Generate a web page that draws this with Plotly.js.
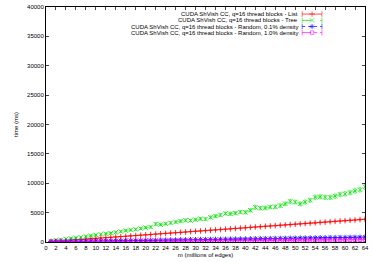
<!DOCTYPE html>
<html><head><meta charset="utf-8">
<script src="https://cdn.plot.ly/plotly-3.0.1.min.js"></script>
<style>html,body{margin:0;padding:0;background:#fff}#chart{width:374px;height:262px}</style>
</head><body><div id="chart"></div>
<script>
const m = [];
for (let i = 1; i <= 64; i++) m.push(i);

const seriesNames = [
  "CUDA ShVish CC, q=16 thread blocks - List",
  "CUDA ShVish CC, q=16 thread blocks - Tree",
  "CUDA ShVish CC, q=16 thread blocks - Random, 0.1% density",
  "CUDA ShVish CC, q=16 thread blocks - Random, 1.0% density"
];

const listTime = [70,140,200,260,320,380,440,500,560,620, 680,740,800,860,920,980,1040,1100,1160,1220,
  1280,1340,1400,1460,1520,1580,1640,1700,1760,1820, 1880,1940,2000,2060,2120,2180,2240,2300,2360,2430,
  2490,2550,2610,2670,2730,2790,2850,2910,2970,3030, 3090,3150,3210,3270,3330,3390,3450,3510,3570,3630,
  3690,3750,3810,3870];
const listErr = [20,20,25,25,30,30,30,35,35,35, 40,40,40,45,45,45,50,50,50,50, 55,55,55,60,60,60,60,65,65,65,
  70,70,70,70,75,75,75,80,80,80, 80,85,85,85,90,90,90,90,95,95, 95,100,100,100,100,105,105,105,110,110, 110,110,115,115];

const treeTime = [150,300,380,500,600,720,800,950,1080,1200, 1300,1420,1500,1650,1780,1950,2050,2150,2300,2450,
  2550,3050,2950,3100,3250,3400,3550,3700,3650,3800, 3950,3900,4200,4400,4600,4850,4800,4900,5100,5050,
  5400,5900,5750,5800,5950,6000,6200,6500,6900,6800, 6500,6800,7100,7600,7700,7600,7600,7800,8100,8200,
  8400,8700,8900,9400];
const treeErr = [60,70,80,90,100,100,110,120,120,130, 130,140,140,150,150,160,160,170,170,180, 180,250,190,200,200,210,210,220,220,230,
  230,240,240,250,250,260,260,270,270,280, 280,350,290,300,300,310,310,320,330,330, 330,340,340,400,350,360,360,370,370,380, 380,390,390,450];

const rand01Time = [30,45,60,75,85,100,110,125,140,150, 165,175,190,200,215,225,240,250,265,275,
  290,300,315,325,340,350,365,375,390,400, 415,425,440,450,465,475,490,500,515,525,
  540,550,565,575,590,600,615,625,640,650, 665,675,690,700,715,725,740,750,765,775,
  790,800,815,830];
const rand10Time = [15,20,30,35,40,45,50,55,60,65, 70,75,80,85,90,95,100,110,115,120,
  125,130,140,145,150,155,160,170,175,180, 185,190,200,205,210,215,220,230,235,240,
  245,250,260,265,270,275,280,290,295,300, 305,310,320,325,330,335,340,350,355,360,
  365,375,385,395];
const smallErr = m.map(() => 15);

const xTicks = [0,2,4,6,8,10,12,14,16,18,20,22,24,26,28,30,32,34,36,38,40,42,44,46,48,50,52,54,56,58,60,62,64];
const yTicks = [0,5000,10000,15000,20000,25000,30000,35000,40000];

const colors = ['#ff0000', '#00e000', '#0000ff', '#ff00ff'];
const symbols = ['cross-thin-open', 'x-thin-open', 'asterisk-open', 'square-open'];
const dashes = ['solid', 'dash', 'dot', 'dashdot'];
const values = [listTime, treeTime, rand01Time, rand10Time];
const errs = [listErr, treeErr, smallErr, smallErr];
const msize = [4, 4.5, 4.5, 3.5];

const traces = values.map((v, k) => ({
  type: 'scatter', mode: 'lines+markers', x: m, y: v, name: seriesNames[k],
  showlegend: false,
  line: {color: colors[k], width: 0.5, dash: dashes[k]},
  marker: {symbol: symbols[k], size: msize[k], color: colors[k], line: {color: colors[k], width: 0.8}},
  error_y: {type: 'data', array: errs[k], visible: true, color: colors[k], thickness: 0.5, width: 1.2}
}));

// legend samples on an overlay axis
const rowsY = [0.970, 0.943, 0.917, 0.891];
const keyX = [0.803, 0.834, 0.865];
rowsY.forEach((ry, k) => {
  traces.push({
    type: 'scatter', mode: 'lines+markers', xaxis: 'x2', yaxis: 'y2',
    x: keyX, y: [ry, ry, ry], showlegend: false, hoverinfo: 'skip',
    line: {color: colors[k], width: 0.7, dash: dashes[k]},
    marker: {symbol: ['line-ns-open', symbols[k], 'line-ns-open'], size: [4, msize[k], 4],
      color: colors[k], line: {color: colors[k], width: 0.8}}
  });
});

const annotations = rowsY.map((ry, k) => ({
  xref: 'paper', yref: 'paper', x: 0.797, y: ry, xanchor: 'right', yanchor: 'middle',
  text: seriesNames[k], showarrow: false, font: {family: 'Liberation Sans, Arial, sans-serif', size: 6, color: '#000'}
}));

const font = {family: 'Liberation Sans, Arial, sans-serif', size: 6, color: '#000'};
const layout = {
  width: 374, height: 262,
  margin: {l: 46, r: 9, t: 7, b: 20},
  paper_bgcolor: '#fff', plot_bgcolor: '#fff',
  font: font,
  xaxis: {range: [0, 64], tickvals: xTicks, ticktext: xTicks.map(String), ticks: 'inside', ticklen: 3,
    showline: true, linecolor: '#000', linewidth: 1, mirror: 'ticks', showgrid: false, zeroline: false,
    tickfont: font, title: {text: 'm (millions of edges)', font: font, standoff: 2}},
  yaxis: {range: [0, 40000], tickvals: yTicks, ticktext: yTicks.map(String), ticks: 'inside', ticklen: 3,
    showline: true, linecolor: '#000', linewidth: 1, mirror: 'ticks', showgrid: false, zeroline: false,
    tickfont: font, title: {text: 'time (ms)', font: font, standoff: 8}},
  xaxis2: {overlaying: 'x', range: [0, 1], visible: false, fixedrange: true},
  yaxis2: {overlaying: 'y', range: [0, 1], visible: false, fixedrange: true},
  showlegend: false,
  annotations: annotations
};
Plotly.newPlot('chart', traces, layout, {staticPlot: true, displayModeBar: false});
</script></body></html>
